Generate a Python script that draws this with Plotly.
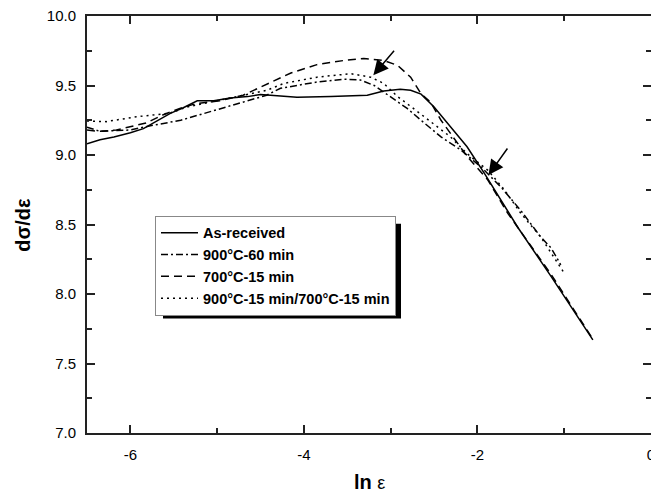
import plotly.graph_objects as go

# ---- data ----
solid_x = [-6.5, -6.35, -6.19, -6.0, -5.85, -5.69, -5.54, -5.39, -5.23, -5.04, -4.85, -4.65, -4.5,
           -4.27, -4.08, -3.69, -3.27, -3.08, -2.89, -2.77, -2.65, -2.5, -2.31, -2.12, -1.92, -1.54,
           -1.15, -0.67]
solid_y = [9.08, 9.11, 9.13, 9.16, 9.19, 9.25, 9.30, 9.34, 9.39, 9.39, 9.41, 9.42, 9.435,
           9.425, 9.415, 9.42, 9.43, 9.46, 9.473, 9.466, 9.438, 9.346, 9.203, 9.059, 8.868, 8.484,
           8.125, 7.67]

dd_x = [-6.5, -6.35, -6.0, -5.77, -5.42, -5.04, -4.65, -4.43, -4.27, -3.85, -3.54, -3.35, -3.19,
        -3.0, -2.81, -2.65, -2.42, -2.19, -1.96, -1.73, -1.5, -1.27, -1.15, -1.04]
dd_y = [9.20, 9.17, 9.18, 9.21, 9.25, 9.32, 9.39, 9.43, 9.48, 9.525, 9.545, 9.54, 9.50,
        9.42, 9.335, 9.25, 9.13, 9.035, 8.915, 8.77, 8.60, 8.41, 8.33, 8.21]

dash_x = [-6.5, -6.36, -6.16, -6.01, -5.82, -5.62, -5.43, -5.24, -4.97, -4.7, -4.43, -4.15, -3.85,
          -3.54, -3.31, -3.08, -2.92, -2.77, -2.65, -2.54, -2.42, -2.12, -1.88, -1.65, -1.15, -0.68]
dash_y = [9.18, 9.17, 9.18, 9.2, 9.23, 9.29, 9.335, 9.37, 9.39, 9.43, 9.51, 9.59, 9.65,
          9.68, 9.695, 9.68, 9.645, 9.56, 9.44, 9.38, 9.25, 8.99, 8.82, 8.58, 8.14, 7.685]

dot_x = [-6.5, -6.28, -5.93, -5.55, -5.35, -4.97, -4.7, -4.43, -4.23, -3.85, -3.46, -3.23, -3.08,
         -2.92, -2.77, -2.62, -2.5, -2.31, -2.12, -1.88, -1.69, -1.5, -1.27, -1.0]
dot_y = [9.245, 9.24, 9.275, 9.3, 9.345, 9.395, 9.43, 9.465, 9.515, 9.56, 9.585, 9.56, 9.515,
         9.42, 9.35, 9.28, 9.22, 9.13, 9.01, 8.89, 8.75, 8.58, 8.41, 8.15]

names = ["As-received", "900°C-60 min", "700°C-15 min", "900°C-15 min/700°C-15 min"]

# arrow tips (data coordinates)
arrow_x = [-3.20, -1.873]
arrow_y = [9.574, 8.856]

FONT = "Liberation Sans, Arial, sans-serif"

fig = go.Figure()
series = [(solid_x, solid_y, "solid"),
          (dd_x, dd_y, "7px,3px,2px,3px"),
          (dash_x, dash_y, "8px,5px"),
          (dot_x, dot_y, "2px,4px")]
for (xs, ys, dash), nm in zip(series, names):
    fig.add_trace(go.Scatter(x=xs, y=ys, mode="lines", name=nm,
                             line=dict(color="black", width=1.5, dash=dash)))

fig.add_annotation(x=arrow_x[0], y=arrow_y[0], ax=22, ay=-26, text="", showarrow=True,
                   arrowhead=2, arrowsize=2.0, arrowwidth=1.5, arrowcolor="black", standoff=0)
fig.add_annotation(x=arrow_x[1], y=arrow_y[1], ax=20, ay=-28, text="", showarrow=True,
                   arrowhead=2, arrowsize=2.0, arrowwidth=1.5, arrowcolor="black", standoff=0)

# axis titles
fig.add_annotation(x=0.5, y=-0.117, xref="paper", yref="paper", showarrow=False,
                   text="<b>ln</b> <span style='font-size:18px'>ε</span>",
                   font=dict(family=FONT, size=20, color="black"), yanchor="middle")
fig.add_annotation(x=-0.115, y=0.5, xref="paper", yref="paper", showarrow=False,
                   text="<b>dσ/dε</b>", textangle=-90,
                   font=dict(family=FONT, size=20, color="black"), xanchor="center")

# legend geometry (pixels) and its drop shadow
LEG_L, LEG_T = 155, 216
LEG_R, LEG_B = 393, 311
SH = 8
fig.add_shape(type="rect", xref="paper", yref="paper",
              x0=(LEG_L + SH - 87) / 564, x1=(LEG_R + SH - 87) / 564,
              y0=1 - (LEG_B + SH - 16) / 417.6, y1=1 - (LEG_T + SH - 16) / 417.6,
              fillcolor="black", line=dict(width=0), layer="above")

axis_common = dict(showline=True, linecolor="#222", linewidth=2, mirror="ticks",
                   ticks="inside", ticklen=8, tickwidth=1.5, tickcolor="#222",
                   showgrid=False, zeroline=False, ticklabeloverflow="allow",
                   tickfont=dict(family=FONT, size=15, color="black"))

fig.update_xaxes(range=[-6.5, 0], tickvals=[-6, -4, -2, 0], ticktext=["-6", "-4", "-2", "0"],
                 minor=dict(tickvals=[-5, -3, -1], ticklen=5, ticks="inside", tickcolor="#222",
                            tickwidth=1.5),
                 ticklabelstandoff=7, **axis_common)
fig.update_yaxes(range=[7.0, 10.0], dtick=0.5, tick0=7.0, tickformat=".1f",
                 minor=dict(dtick=0.25, ticklen=5, ticks="inside", tickcolor="#222",
                            tickwidth=1.5),
                 ticklabelstandoff=6, **axis_common)

fig.update_layout(
    width=651, height=494,
    margin=dict(l=87, r=0, t=16, b=61, autoexpand=False),
    paper_bgcolor="white", plot_bgcolor="white",
    showlegend=True,
    legend=dict(x=(LEG_L - 87) / 564, y=1 - (LEG_T - 16) / 417.6, xanchor="left", yanchor="top",
                bgcolor="white", bordercolor="#888", borderwidth=1, itemwidth=37,
                font=dict(family=FONT, size=14.5, color="black", weight="bold"),
                tracegroupgap=0),
)

fig.write_html("out.html")
